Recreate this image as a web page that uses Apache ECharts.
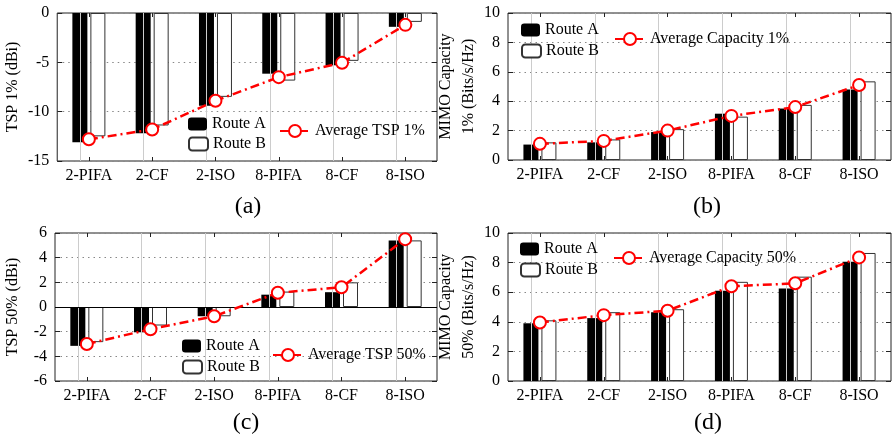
<!DOCTYPE html>
<html>
<head>
<meta charset="utf-8">
<script src="https://cdn.jsdelivr.net/npm/echarts@6/dist/echarts.min.js"></script>
<style>
html,body{margin:0;padding:0;background:#fff;}
#chart{width:893px;height:437px;}
</style>
</head>
<body>
<div id="chart"></div>
<script>
const categories = ['2-PIFA', '2-CF', '2-ISO', '8-PIFA', '8-CF', '8-ISO'];

const tsp1RouteA = [-13.1, -12.2, -9.4, -6.15, -5.3, -1.4];
const tsp1RouteB = [-12.5, -11.4, -8.5, -6.85, -4.85, -0.9];
const tsp1Average = [-12.8, -11.8, -8.9, -6.5, -5.05, -1.2];

const cap1RouteA = [1.05, 1.2, 1.9, 3.15, 3.5, 4.8];
const cap1RouteB = [1.2, 1.4, 2.1, 2.95, 3.75, 5.35];
const cap1Average = [1.1, 1.3, 2.0, 3.0, 3.6, 5.1];

const tsp50RouteA = [-3.15, -2.05, -0.75, 1.0, 1.2, 5.4];
const tsp50RouteB = [-2.85, -1.5, -0.75, 1.25, 2.0, 5.4];
const tsp50Average = [-3.0, -1.8, -0.75, 1.15, 1.6, 5.5];

const cap50RouteA = [3.9, 4.25, 4.65, 6.1, 6.25, 8.05];
const cap50RouteB = [4.1, 4.65, 4.85, 6.7, 7.05, 8.65];
const cap50Average = [3.95, 4.45, 4.75, 6.4, 6.6, 8.35];

const panelLabels = ['(a)', '(b)', '(c)', '(d)'];
const yNames = ['TSP 1% (dBi)', 'MIMO Capacity\n1% (Bits/s/Hz)', 'TSP 50% (dBi)', 'MIMO Capacity\n50% (Bits/s/Hz)'];
const avgNames = ['Average TSP 1%', 'Average Capacity 1%', 'Average TSP 50%', 'Average Capacity 50%'];
const yRanges = [[-15, 0, 5], [0, 10, 2], [-6, 6, 2], [0, 10, 2]];

const FONT = 'Liberation Serif';
const chart = echarts.init(document.getElementById('chart'));

const panels = [
  {a: tsp1RouteA, b: tsp1RouteB, avg: tsp1Average, grid: {left: 52, top: 13, width: 385, height: 148}, nameGap: 31,
   leg: {bx: 188, ay: 116, by: 136, lx: 279, ly: 123}, lab: [248, 207], zero: false},
  {a: cap1RouteA, b: cap1RouteB, avg: cap1Average, grid: {left: 508, top: 13, width: 383, height: 147}, nameGap: 22,
   leg: {bx: 521, ay: 22, by: 43, lx: 614, ly: 31}, lab: [707, 207], zero: false},
  {a: tsp50RouteA, b: tsp50RouteB, avg: tsp50Average, grid: {left: 52, top: 233, width: 385, height: 148}, nameGap: 31,
   leg: {bx: 182, ay: 338, by: 359, lx: 272, ly: 347}, lab: [246, 423], zero: true},
  {a: cap50RouteA, b: cap50RouteB, avg: cap50Average, grid: {left: 508, top: 233, width: 383, height: 148}, nameGap: 22,
   leg: {bx: 520, ay: 241, by: 262, lx: 613, ly: 250}, lab: [708, 423], zero: false}
];

const grid = [], xAxis = [], yAxis = [], series = [], legend = [], graphic = [];
const txt = {fontFamily: FONT, fontSize: 16, color: '#000'};
const gridDot = {type: [1.5, 4], color: '#888', width: 1};
const vLine = {type: 'solid', color: '#cccccc', width: 1};

panels.forEach((p, i) => {
  grid.push(Object.assign({show: true, borderColor: '#222', borderWidth: 1, backgroundColor: 'transparent', containLabel: false}, p.grid));
  xAxis.push({
    type: 'category', gridIndex: i, data: categories, position: 'bottom',
    axisLine: {show: false, onZero: false},
    axisTick: {show: true, inside: true, alignWithLabel: true, length: 4, lineStyle: {color: '#222'}},
    axisLabel: Object.assign({margin: 7}, txt),
    splitLine: {show: false}
  });
  xAxis.push({
    type: 'category', gridIndex: i, data: categories, position: 'top',
    axisLine: {show: false, onZero: false},
    axisTick: {show: true, inside: true, alignWithLabel: true, length: 4, lineStyle: {color: '#222'}},
    axisLabel: {show: false}, splitLine: {show: false}
  });
  const r = yRanges[i];
  yAxis.push({
    type: 'value', gridIndex: i, min: r[0], max: r[1], interval: r[2], position: 'left',
    name: yNames[i], nameLocation: 'middle', nameGap: p.nameGap, nameRotate: 90,
    nameTextStyle: Object.assign({lineHeight: 23}, txt),
    axisLine: {show: false},
    axisTick: {show: true, inside: true, length: 5, lineStyle: {color: '#222'}},
    axisLabel: Object.assign({margin: 8}, txt),
    splitLine: {show: true, lineStyle: gridDot}
  });
  yAxis.push({
    type: 'value', gridIndex: i, min: r[0], max: r[1], interval: r[2], position: 'right',
    axisLine: {show: false},
    axisTick: {show: true, inside: true, length: 5, lineStyle: {color: '#222'}},
    axisLabel: {show: false}, splitLine: {show: false}
  });
  const markData = categories.map(c => ({xAxis: c}));
  if (p.zero) markData.push({yAxis: 0, lineStyle: {type: 'solid', color: '#000', width: 1}});
  series.push({
    name: 'Route A', type: 'bar', xAxisIndex: 2 * i, yAxisIndex: 2 * i, data: p.a,
    barWidth: 15, barGap: '20%', z: 2,
    itemStyle: {color: '#000', borderColor: '#000', borderWidth: 0},
    markLine: {
      silent: true, symbol: 'none', animation: false, z: 3,
      label: {show: false},
      lineStyle: vLine,
      data: markData
    }
  });
  series.push({
    name: 'Route B', type: 'bar', xAxisIndex: 2 * i, yAxisIndex: 2 * i, data: p.b,
    barWidth: 15, z: 2,
    itemStyle: {color: '#fff', borderColor: '#333', borderWidth: 1}
  });
  series.push({
    name: avgNames[i], type: 'line', xAxisIndex: 2 * i, yAxisIndex: 2 * i, data: p.avg, z: 4,
    symbol: 'emptyCircle', symbolSize: 12,
    lineStyle: {color: '#ff0000', width: 2.5, type: [9, 4, 2, 4]},
    itemStyle: {color: '#ff0000', borderColor: '#ff0000', borderWidth: 2.5}
  });
  const base = {orient: 'horizontal', padding: 0, selectedMode: false, textStyle: txt, itemGap: 0};
  legend.push(Object.assign({}, base, {data: ['Route A'], left: p.leg.bx, top: p.leg.ay, itemWidth: 19, itemHeight: 13}));
  legend.push(Object.assign({}, base, {data: ['Route B'], left: p.leg.bx, top: p.leg.by, itemWidth: 19, itemHeight: 13}));
  legend.push(Object.assign({}, base, {data: [avgNames[i]], left: p.leg.lx, top: p.leg.ly, itemWidth: 30, itemHeight: 15}));
  graphic.push({
    type: 'text', x: p.lab[0], y: p.lab[1], silent: true,
    style: {text: panelLabels[i], fontFamily: FONT, fontSize: 24, fill: '#000', align: 'center', verticalAlign: 'middle'}
  });
});

chart.setOption({
  animation: false,
  backgroundColor: '#fff',
  grid, xAxis, yAxis, series, legend, graphic
});
</script>
</body>
</html>
